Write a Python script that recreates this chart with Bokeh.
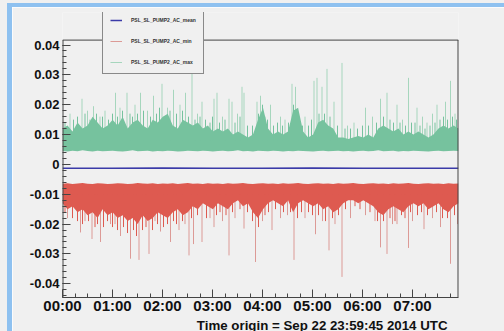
import numpy as np
from bokeh.plotting import figure
from bokeh.models import Range1d, FixedTicker, Legend, LegendItem, Div, Title
from bokeh.layouts import row, column
from bokeh.embed import file_html
from bokeh.resources import INLINE

# ---------------- data ----------------
hour_ticks = [0, 1, 2, 3, 4, 5, 6, 7]
hour_labels = ["00:00", "01:00", "02:00", "03:00", "04:00", "05:00", "06:00", "07:00"]
y_ticks = [-0.04, -0.03, -0.02, -0.01, 0.0, 0.01, 0.02, 0.03, 0.04]
y_labels = ["-0.04", "-0.03", "-0.02", "-0.01", "0", "0.01", "0.02", "0.03", "0.04"]
origin_text = "Time origin = Sep 22 23:59:45 2014 UTC"
names = ["PSL_SL_PUMP2_AC_mean", "PSL_SL_PUMP2_AC_min", "PSL_SL_PUMP2_AC_max"]

T_END = 7.92          # hours shown
Y_LO, Y_BOX_TOP, Y_HI = -0.0446, 0.04165, 0.0509

band_t = list(np.linspace(0.0, T_END, 80))

max_hi = [0.012, 0.013, 0.011, 0.014, 0.012, 0.013,
          0.016, 0.014, 0.012, 0.013, 0.015,
          0.013, 0.016, 0.012, 0.014, 0.015,
          0.013, 0.012, 0.015, 0.014, 0.016,
          0.017, 0.013, 0.012, 0.015, 0.014,
          0.013, 0.014, 0.012, 0.013, 0.011,
          0.012, 0.011, 0.012, 0.010, 0.011,
          0.010, 0.009, 0.010, 0.015, 0.019,
          0.012, 0.010, 0.011, 0.010, 0.011,
          0.018, 0.019, 0.011, 0.009, 0.010,
          0.014, 0.015, 0.013, 0.012, 0.009,
          0.009, 0.0085, 0.009, 0.0095, 0.009,
          0.010, 0.009, 0.012, 0.013, 0.012,
          0.011, 0.012, 0.010, 0.011, 0.010,
          0.011, 0.010, 0.009, 0.010, 0.012,
          0.013, 0.012, 0.013, 0.012]
max_lo = [0.0045, 0.0043, 0.0046, 0.0044, 0.0047, 0.0045, 0.0043, 0.0046, 0.0044, 0.0045,
          0.0046, 0.0044, 0.0043, 0.0045, 0.0047, 0.0044, 0.0045, 0.0046, 0.0043, 0.0045,
          0.0044, 0.0046, 0.0045, 0.0043, 0.0044, 0.0046, 0.0045, 0.0044, 0.0046, 0.0045,
          0.0043, 0.0045, 0.0046, 0.0044, 0.0045, 0.0047, 0.0044, 0.0045, 0.0043, 0.0046,
          0.0045, 0.0044, 0.0046, 0.0045, 0.0043, 0.0045, 0.0044, 0.0046, 0.0045, 0.0044,
          0.0043, 0.0045, 0.0046, 0.0044, 0.0045, 0.0046, 0.0044, 0.0045, 0.0043, 0.0045,
          0.0046, 0.0044, 0.0045, 0.0047, 0.0044, 0.0045, 0.0046, 0.0043, 0.0045, 0.0044,
          0.0046, 0.0045, 0.0044, 0.0043, 0.0045, 0.0046, 0.0044, 0.0045, 0.0046, 0.0045]

min_hi = [-0.0065, -0.0063, -0.0066, -0.0064, -0.0062, -0.0065, -0.0066, -0.0063, -0.0064, -0.0066,
          -0.0065, -0.0063, -0.0064, -0.0066, -0.0065, -0.0062, -0.0064, -0.0065, -0.0063, -0.0066,
          -0.0064, -0.0065, -0.0063, -0.0066, -0.0064, -0.0062, -0.0065, -0.0064, -0.0066, -0.0063,
          -0.0065, -0.0064, -0.0066, -0.0063, -0.0065, -0.0064, -0.0062, -0.0065, -0.0066, -0.0064,
          -0.0063, -0.0065, -0.0064, -0.0066, -0.0063, -0.0065, -0.0064, -0.0062, -0.0065, -0.0066,
          -0.0064, -0.0063, -0.0065, -0.0064, -0.0066, -0.0063, -0.0065, -0.0064, -0.0062, -0.0065,
          -0.0066, -0.0064, -0.0063, -0.0065, -0.0064, -0.0066, -0.0063, -0.0065, -0.0064, -0.0062,
          -0.0065, -0.0066, -0.0064, -0.0063, -0.0065, -0.0064, -0.0066, -0.0063, -0.0065, -0.0064]
min_lo = [-0.013, -0.015, -0.014, -0.016, -0.015, -0.017,
          -0.016, -0.018, -0.015, -0.017, -0.016,
          -0.018, -0.017, -0.019, -0.018, -0.020,
          -0.017, -0.019, -0.018, -0.016, -0.017,
          -0.018, -0.016, -0.015, -0.017, -0.016,
          -0.014, -0.015, -0.013, -0.014, -0.015,
          -0.013, -0.014, -0.015, -0.013, -0.012,
          -0.014, -0.013, -0.016, -0.018, -0.015,
          -0.013, -0.012, -0.013, -0.014, -0.012,
          -0.016, -0.013, -0.012, -0.013, -0.014,
          -0.013, -0.015, -0.014, -0.016, -0.015,
          -0.013, -0.012, -0.012, -0.013, -0.012,
          -0.013, -0.014, -0.016, -0.017, -0.015,
          -0.014, -0.015, -0.016, -0.014, -0.013,
          -0.014, -0.013, -0.015, -0.014, -0.013,
          -0.015, -0.016, -0.014, -0.013]

# tall isolated excursions
max_spike_t = [0.15, 0.39, 0.50, 0.62, 0.75, 0.85, 1.06, 1.15, 1.29, 1.45, 1.56, 1.70, 1.82, 1.99,
               2.10, 2.22, 2.35, 2.46, 2.59, 2.70, 2.79, 3.03, 3.09, 3.20, 3.33, 3.39, 3.50, 3.59,
               3.63, 3.89, 3.96, 4.05, 4.16, 4.36, 4.45, 4.59, 4.66, 4.85, 5.03, 5.09, 5.19, 5.29,
               5.43, 5.59, 5.70, 5.83, 6.06, 6.20, 6.36, 6.49, 6.69, 6.80, 6.92, 7.09, 7.20, 7.29,
               7.40, 7.49, 7.66, 7.76, 7.85]
max_spike_v = [0.017, 0.022, 0.018, 0.0195, 0.016, 0.018, 0.024, 0.019, 0.024, 0.020, 0.024, 0.018, 0.023, 0.027,
               0.019, 0.025, 0.020, 0.024, 0.033, 0.017, 0.021, 0.022, 0.024, 0.016, 0.022, 0.021, 0.017, 0.026,
               0.024, 0.021, 0.023, 0.016, 0.020, 0.016, 0.015, 0.027, 0.026, 0.016, 0.028, 0.029, 0.026, 0.032,
               0.021, 0.034, 0.013, 0.014, 0.019, 0.016, 0.022, 0.024, 0.020, 0.015, 0.029, 0.019, 0.016, 0.014,
               0.017, 0.020, 0.021, 0.028, 0.017]

min_spike_t = [0.10, 0.36, 0.45, 0.59, 0.76, 0.96, 1.05, 1.16, 1.36, 1.53, 1.73, 1.85, 1.96, 2.16,
               2.33, 2.45, 2.53, 2.62, 2.79, 2.95, 3.03, 3.20, 3.33, 3.45, 3.63, 3.86, 4.00, 4.19,
               4.36, 4.50, 4.63, 4.85, 5.06, 5.20, 5.33, 5.45, 5.59, 5.76, 6.06, 6.25, 6.36, 6.49,
               6.60, 6.69, 6.92, 7.00, 7.23, 7.40, 7.56, 7.76, 7.90]
min_spike_v = [-0.018, -0.0228, -0.019, -0.025, -0.026, -0.020, -0.020, -0.024, -0.0316, -0.032, -0.030, -0.019, -0.0225, -0.026,
               -0.022, -0.020, -0.0305, -0.0267, -0.026, -0.018, -0.021, -0.019, -0.0305, -0.018, -0.0215, -0.0327, -0.019, -0.022,
               -0.018, -0.017, -0.032, -0.018, -0.0234, -0.019, -0.0288, -0.020, -0.0377, -0.018, -0.017, -0.019, -0.0278, -0.030,
               -0.020, -0.020, -0.028, -0.019, -0.0217, -0.018, -0.021, -0.0333, -0.020]

# dense medium excursions just beyond the bands (texture of the noisy traces)
max_mid_t = [0.05, 0.22, 0.30, 0.45, 0.55, 0.68, 0.80, 0.92, 1.00, 1.10, 1.20, 1.35, 1.40, 1.50, 1.62, 1.76,
             1.88, 1.94, 2.05, 2.15, 2.28, 2.40, 2.52, 2.65, 2.75, 2.86, 2.95, 3.00, 3.14, 3.25, 3.45, 3.55,
             3.70, 3.80, 3.92, 4.00, 4.10, 4.22, 4.30, 4.40, 4.52, 4.62, 4.72, 4.80, 4.92, 4.98, 5.13, 5.24,
             5.35, 5.50, 5.65, 5.76, 5.90, 6.00, 6.12, 6.28, 6.42, 6.55, 6.62, 6.75, 6.86, 6.98, 7.05, 7.15,
             7.25, 7.35, 7.45, 7.55, 7.62, 7.70, 7.80, 7.88]
max_mid_v = [0.014, 0.015, 0.016, 0.017, 0.015, 0.017, 0.016, 0.015, 0.017, 0.016, 0.018, 0.017, 0.016, 0.017, 0.018, 0.016,
             0.017, 0.019, 0.016, 0.018, 0.017, 0.018, 0.016, 0.015, 0.016, 0.015, 0.014, 0.016, 0.014, 0.015, 0.014, 0.016,
             0.013, 0.013, 0.017, 0.020, 0.015, 0.013, 0.014, 0.013, 0.014, 0.020, 0.016, 0.013, 0.013, 0.015, 0.017, 0.017,
             0.016, 0.013, 0.012, 0.012, 0.012, 0.013, 0.013, 0.014, 0.016, 0.015, 0.014, 0.014, 0.013, 0.014, 0.014, 0.013,
             0.012, 0.013, 0.014, 0.015, 0.016, 0.015, 0.016, 0.015]
min_mid_t = [0.05, 0.20, 0.30, 0.40, 0.52, 0.65, 0.70, 0.82, 0.90, 1.00, 1.10, 1.22, 1.30, 1.42, 1.48, 1.60,
             1.67, 1.80, 1.90, 2.02, 2.10, 2.22, 2.28, 2.40, 2.58, 2.70, 2.88, 3.08, 3.15, 3.27, 3.40, 3.55,
             3.70, 3.80, 3.92, 4.05, 4.12, 4.26, 4.42, 4.56, 4.70, 4.78, 4.92, 5.00, 5.12, 5.26, 5.40, 5.52,
             5.66, 5.85, 5.95, 6.15, 6.30, 6.42, 6.55, 6.65, 6.78, 6.85, 6.96, 7.10, 7.18, 7.30, 7.48, 7.60,
             7.70, 7.84]
min_mid_v = [-0.016, -0.018, -0.019, -0.020, -0.019, -0.021, -0.020, -0.021, -0.019, -0.021, -0.022, -0.021, -0.023, -0.022, -0.024, -0.022,
             -0.021, -0.022, -0.020, -0.021, -0.020, -0.019, -0.020, -0.019, -0.018, -0.017, -0.018, -0.017, -0.016, -0.017, -0.016, -0.015,
             -0.016, -0.019, -0.021, -0.017, -0.016, -0.015, -0.016, -0.016, -0.018, -0.016, -0.016, -0.017, -0.017, -0.019, -0.018, -0.017,
             -0.015, -0.014, -0.015, -0.016, -0.019, -0.019, -0.018, -0.019, -0.017, -0.018, -0.016, -0.017, -0.016, -0.017, -0.016, -0.018,
             -0.018, -0.017]

mean_t = [0.0, 1.0, 2.0, 3.0, 4.0, 5.0, 6.0, 7.0, 7.92]
mean_v = [-0.0013, -0.0013, -0.0012, -0.0013, -0.0013, -0.0012, -0.0013, -0.0013, -0.0013]

# ---------------- styling ----------------
BG = "#f0f0f0"
FRAME_BLUE = "#8ec1f0"
GREEN = "#76c29e"
GREEN_L = "#a6d6bd"
RED = "#de5a50"
RED_L = "#dc9a96"
BLUE = "#3a3aa8"
BOX = "#444444"
FONT = "Liberation Sans"

p = figure(width=492, height=324, output_backend="svg", toolbar_location=None,
           x_range=Range1d(0, T_END), y_range=Range1d(Y_LO, Y_HI),
           min_border_left=50, min_border_right=46, min_border_top=5, min_border_bottom=0,
           background_fill_color=BG, border_fill_color=BG)
p.grid.visible = False
p.outline_line_color = None

# tall spikes first, bands on top, then medium excursions in band colour
gs = p.segment(x0=max_spike_t, y0=[0.008] * len(max_spike_t), x1=max_spike_t, y1=max_spike_v,
               line_color=GREEN_L, line_width=1)
rs = p.segment(x0=min_spike_t, y0=[-0.009] * len(min_spike_t), x1=min_spike_t, y1=min_spike_v,
               line_color=RED_L, line_width=1)
p.varea(x=band_t, y1=max_lo, y2=max_hi, fill_color=GREEN)
p.varea(x=band_t, y1=min_lo, y2=min_hi, fill_color=RED)
p.segment(x0=max_mid_t, y0=[0.008] * len(max_mid_t), x1=max_mid_t, y1=max_mid_v,
          line_color=GREEN, line_width=1)
p.segment(x0=min_mid_t, y0=[-0.010] * len(min_mid_t), x1=min_mid_t, y1=min_mid_v,
          line_color=RED, line_width=1)
ml = p.line(mean_t, mean_v, line_color=BLUE, line_width=1.5)

# ROOT-style box (top, left, right edges; bottom edge is the x axis line)
p.segment(x0=[0, 0, T_END], y0=[Y_BOX_TOP, Y_LO, Y_LO], x1=[T_END, 0, T_END],
          y1=[Y_BOX_TOP, Y_BOX_TOP, Y_BOX_TOP], line_color=BOX, line_width=[1, 2, 2])

# axes
xa = p.xaxis[0]
xa.ticker = FixedTicker(ticks=hour_ticks, minor_ticks=[h / 4 for h in range(0, 32)])
xa.major_label_overrides = {t: l for t, l in zip(hour_ticks, hour_labels)}
ya = p.yaxis[0]
ya.ticker = FixedTicker(ticks=y_ticks, minor_ticks=[round(-0.044 + 0.002 * i, 4) for i in range(0, 43)])
ya.major_label_overrides = {t: l for t, l in zip(y_ticks, y_labels)}
for ax in (xa, ya):
    ax.major_tick_in = 8
    ax.major_tick_out = 0
    ax.minor_tick_in = 4
    ax.minor_tick_out = 0
    ax.major_tick_line_color = BOX
    ax.minor_tick_line_color = BOX
    ax.major_label_text_font = FONT
    ax.major_label_text_font_style = "bold"
    ax.major_label_text_color = "#111111"
xa.axis_line_color = BOX
ya.axis_line_color = None
xa.major_label_text_font_size = "15px"
xa.major_label_standoff = -1
ya.major_label_text_font_size = "13px"
ya.major_label_standoff = 3

origin_title = Title(text=origin_text, align="right", offset=11, standoff=-2,
                     text_font=FONT, text_font_style="bold", text_font_size="13.3px",
                     text_color="#111111")
p.add_layout(origin_title, "below")

legend = Legend(items=[LegendItem(label=names[0], renderers=[ml]),
                       LegendItem(label=names[1], renderers=[rs]),
                       LegendItem(label=names[2], renderers=[gs])],
                location=(40, 223), orientation="vertical",
                background_fill_color=BG, background_fill_alpha=1.0,
                border_line_color="#222222", border_line_width=1,
                label_text_font=FONT, label_text_font_size="5px", label_text_font_style="bold",
                label_text_color="#333333",
                glyph_width=12, glyph_height=8, label_height=8, spacing=13,
                padding=7, label_standoff=9, margin=0)
p.add_layout(legend)

def block(w, h, color):
    return Div(width=w, height=h, margin=0, styles={"background-color": color})

layout = column(
    block(504, 3, BG),
    row(block(7, 328, BG),
        column(block(497, 4, FRAME_BLUE),
               row(block(5, 324, FRAME_BLUE), p))))

open("out.html", "w").write(file_html(layout, INLINE))
